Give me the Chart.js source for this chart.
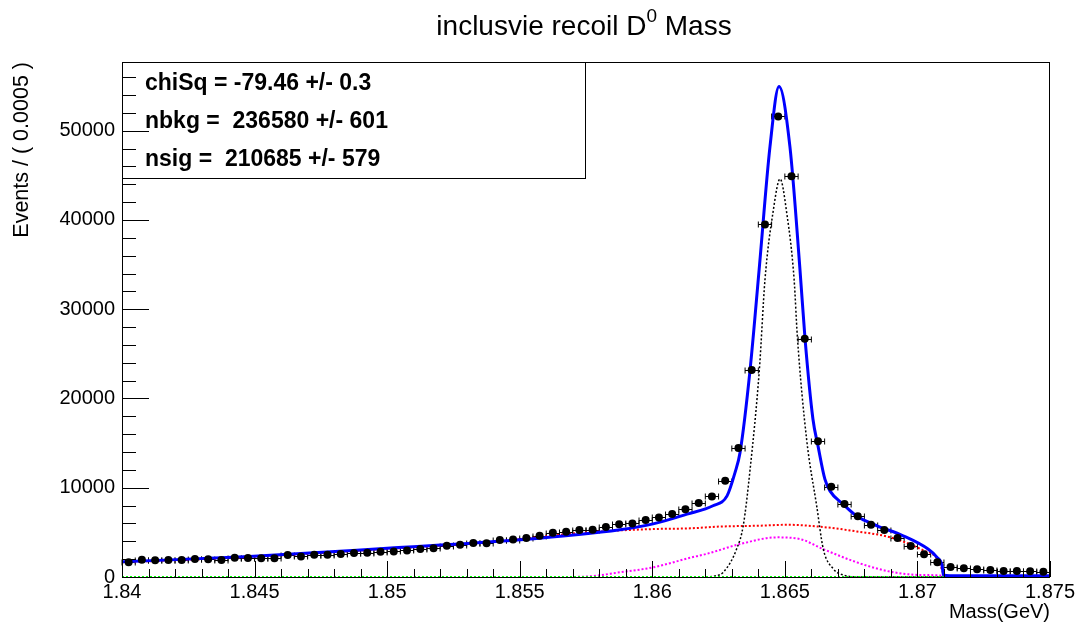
<!DOCTYPE html>
<html>
<head>
<meta charset="utf-8">
<title>inclusvie recoil D0 Mass</title>
<script src="https://cdn.jsdelivr.net/npm/chart.js@4.4.1/dist/chart.umd.min.js"></script>
<style>
  html, body { margin: 0; padding: 0; background: #ffffff; }
  #box { width: 1079px; height: 626px; }
</style>
</head>
<body>
<div id="box"><canvas id="massChart"></canvas></div>
<script>
/* histogram : 70 bins of 0.0005 GeV from 1.84 */
var binWidth = 0.0005;
var binCounts = [1640, 1940, 1870, 1900, 1900, 2010, 1980, 1900, 2160, 2120,
                 2090, 2090, 2460, 2310, 2500, 2500, 2570, 2680, 2720, 2830,
                 2870, 2980, 3130, 3210, 3500, 3600, 3800, 3770, 4140, 4200,
                 4360, 4620, 4960, 5070, 5260, 5300, 5600, 5900, 6000, 6380,
                 6680, 7050, 7600, 8300, 9030, 10770, 14450, 23200, 39500, 51600,
                 44900, 26700, 15200, 10100, 8170, 6820, 5850, 5260, 4360, 3470,
                 2540, 1640, 1120, 970, 860, 780, 670, 670, 640, 600];
var binCenters = binCounts.map(function (c, i) { return 1.84 + (i + 0.5) * binWidth; });

/* total fit (blue) */
var fitX = [1.8400, 1.8448, 1.8500, 1.8550, 1.85878, 1.86003, 1.86131, 1.86229, 1.86282, 1.86312,
            1.86331, 1.86369, 1.86403, 1.86444, 1.86478, 1.86519, 1.86557, 1.86576, 1.86606, 1.86625,
            1.86651, 1.86670, 1.86719, 1.86772, 1.86848, 1.86946, 1.87040, 1.87074, 1.87093, 1.87098,
            1.87123, 1.8750];
var fitY = [1700, 2300, 3220, 4170, 5300, 5950, 7050, 7980, 9090, 11700,
            13950, 23270, 34450, 48240, 54960, 48240, 34450, 26730, 17670, 14690,
            10960, 9650, 8170, 6800, 5740, 4620, 3130, 2200, 1260, 220,
            150, 150];

/* background (red dotted) */
var bkgX = [1.8400, 1.8448, 1.8500, 1.85377, 1.85754, 1.86003, 1.86142, 1.86255, 1.86406, 1.86508,
            1.86644, 1.86772, 1.86897, 1.87021, 1.87074, 1.87096, 1.87100, 1.8750];
var bkgY = [1650, 2250, 3150, 3880, 5000, 5370, 5450, 5650, 5750, 5850,
            5600, 5100, 4450, 3000, 2050, 500, 0, 0];

/* peaking component (magenta dotted) */
var bumpX = [1.8400, 1.85652, 1.85754, 1.85878, 1.86003, 1.86142, 1.86206, 1.86331, 1.86470, 1.86557,
             1.86644, 1.86772, 1.86897, 1.87021, 1.87096, 1.87100, 1.8750];
var bumpY = [0, 0, 50, 530, 1080, 2150, 2600, 3690, 4440, 4250,
             3130, 1640, 600, 220, 150, 0, 0];

/* signal (black dotted) */
var sigX = [1.8400, 1.86180, 1.86243, 1.86268, 1.86318, 1.86343, 1.86369, 1.86404, 1.86425, 1.86455,
            1.86482, 1.86507, 1.86535, 1.86547, 1.86582, 1.86620, 1.86645, 1.86683, 1.86721, 1.86783,
            1.8750];
var sigY = [0, 0, 150, 530, 3130, 5740, 12080, 23300, 33300, 40800,
            44600, 40800, 33300, 27000, 15440, 7980, 3130, 900, 220, 0,
            0];

/* flat component (green dotted) */
var flatX = [1.8400, 1.8750];
var flatY = [0, 0];

/* axes */
var massTicks = [1.84, 1.845, 1.85, 1.855, 1.86, 1.865, 1.87, 1.875];
var eventTicks = [0, 10000, 20000, 30000, 40000, 50000];
var fitLines = ["chiSq = -79.46 +/- 0.3", "nbkg =  236580 +/- 601", "nsig =  210685 +/- 579"];

var fontFamily = "'Liberation Sans', Arial, Helvetica, sans-serif";

function pairs(xs, ys) {
    return xs.map(function (x, i) { return { x: x, y: ys[i] }; });
}

function curve(label, xs, ys, color, width, dash) {
    return {
        label: label,
        data: pairs(xs, ys),
        showLine: true,
        borderColor: color,
        borderWidth: width,
        borderDash: dash,
        pointRadius: 0,
        cubicInterpolationMode: "monotone",
        fill: false
    };
}

/* error bars under the markers */
var errorBars = {
    id: "errorBars",
    beforeDatasetsDraw: function (chart) {
        var ctx = chart.ctx;
        var xs = chart.scales.x, ys = chart.scales.y;
        ctx.save();
        ctx.strokeStyle = "#000000";
        ctx.lineWidth = 1;
        binCounts.forEach(function (n, i) {
            var c = binCenters[i];
            var x1 = xs.getPixelForValue(c - binWidth / 2);
            var x2 = xs.getPixelForValue(c + binWidth / 2);
            var yc = Math.round(ys.getPixelForValue(n)) + 0.5;
            var e = Math.sqrt(n);
            ctx.beginPath();
            ctx.moveTo(x1, yc); ctx.lineTo(x2, yc);
            ctx.moveTo(x1, yc - 3); ctx.lineTo(x1, yc + 3);
            ctx.moveTo(x2, yc - 3); ctx.lineTo(x2, yc + 3);
            var xc = Math.round(xs.getPixelForValue(c)) + 0.5;
            ctx.moveTo(xc, ys.getPixelForValue(n + e));
            ctx.lineTo(xc, ys.getPixelForValue(n - e));
            ctx.stroke();
        });
        ctx.restore();
    }
};

/* frame, inside ticks, fit box and title */
var rootFrame = {
    id: "rootFrame",
    afterDraw: function (chart) {
        var ctx = chart.ctx;
        var a = chart.chartArea;
        var xs = chart.scales.x, ys = chart.scales.y;
        ctx.save();

        // fit result box
        ctx.fillStyle = "#ffffff";
        ctx.fillRect(a.left, a.top, 586 - a.left, 178 - a.top);
        ctx.strokeStyle = "#000000";
        ctx.lineWidth = 1;
        ctx.strokeRect(a.left + 0.5, a.top + 0.5, 586 - a.left - 1, 178 - a.top);
        ctx.fillStyle = "#000000";
        ctx.font = "bold 23px " + fontFamily;
        ctx.textAlign = "left";
        ctx.textBaseline = "alphabetic";
        fitLines.forEach(function (t, i) {
            ctx.fillText(t, 145, 90 + i * 38);
        });

        // frame
        ctx.strokeStyle = "#000000";
        ctx.lineWidth = 1;
        ctx.strokeRect(a.left + 0.5, a.top + 0.5, a.right - a.left - 1, a.bottom - a.top);

        // y ticks (inside, left)
        ctx.beginPath();
        for (var v = 0; v <= ys.max; v += 2000) {
            var py = Math.round(ys.getPixelForValue(v)) + 0.5;
            var len = (v % 10000 === 0) ? 27 : 14;
            ctx.moveTo(a.left, py);
            ctx.lineTo(a.left + len, py);
        }
        // x ticks (inside, bottom)
        for (var k = 0; k <= 35; k++) {
            var px = Math.round(xs.getPixelForValue(1.84 + k * 0.001)) + 0.5;
            var l2 = (k % 5 === 0) ? 16 : 8;
            ctx.moveTo(px, a.bottom);
            ctx.lineTo(px, a.bottom - l2);
        }
        ctx.stroke();

        // title with superscript
        var part1 = "inclusvie recoil D", sup = "0", part2 = " Mass";
        ctx.font = "28px " + fontFamily;
        var w1 = ctx.measureText(part1).width;
        var w3 = ctx.measureText(part2).width;
        ctx.font = "19px " + fontFamily;
        var w2 = ctx.measureText(sup).width;
        var x0 = 584 - (w1 + w2 + w3) / 2;
        ctx.font = "28px " + fontFamily;
        ctx.fillText(part1, x0, 35);
        ctx.fillText(part2, x0 + w1 + w2, 35);
        ctx.font = "19px " + fontFamily;
        ctx.fillText(sup, x0 + w1, 22);

        ctx.restore();
    }
};

var canvasElement = document.getElementById("massChart");

var config =
{
    type : "scatter",
    data :
    {
        datasets: [
            {
                label : "data",
                data : pairs(binCenters, binCounts),
                pointRadius : 4,
                pointBackgroundColor : "#000000",
                pointBorderColor : "#000000",
                pointBorderWidth : 0,
                showLine : false
            },
            curve("total", fitX, fitY, "#0000ff", 3, []),
            curve("flat", flatX, flatY, "#00ff00", 2, [2, 2]),
            curve("sig", sigX, sigY, "#000000", 1.5, [2, 2]),
            curve("peaking", bumpX, bumpY, "#ff00ff", 2, [2, 2]),
            curve("bkg", bkgX, bkgY, "#ff0000", 2, [2, 2])
        ],
    },
    options :
    {
        responsive : true,
        maintainAspectRatio : false,
        animation : false,
        events : [],
        layout : { padding : { left : 0, top : 62, right : 29, bottom : 0 } },
        plugins : {
            legend : { display : false },
            tooltip : { enabled : false },
            title : { display : false }
        },
        scales : {
            x : {
                type : "linear",
                min : 1.84,
                max : 1.875,
                grid : { display : false, drawTicks : false },
                border : { display : false },
                afterBuildTicks : function (s) { s.ticks = massTicks.map(function (v) { return { value : v }; }); },
                afterFit : function (s) { s.height = 49; },
                ticks : {
                    color : "#000000",
                    padding : 3,
                    maxRotation : 0,
                    autoSkip : false,
                    font : { family : fontFamily, size : 20 },
                    callback : function (v) { return String(+Number(v).toFixed(3)); }
                },
                title : {
                    display : true,
                    text : "Mass(GeV)",
                    align : "end",
                    color : "#000000",
                    font : { family : fontFamily, size : 20 },
                    padding : { top : 0, bottom : 2 }
                }
            },
            y : {
                type : "linear",
                min : 0,
                max : 57700,
                grid : { display : false, drawTicks : false },
                border : { display : false },
                afterBuildTicks : function (s) { s.ticks = eventTicks.map(function (v) { return { value : v }; }); },
                afterFit : function (s) { s.width = 122; },
                ticks : {
                    color : "#000000",
                    padding : 7,
                    font : { family : fontFamily, size : 20 },
                    callback : function (v) { return String(v); }
                },
                title : {
                    display : true,
                    text : "Events / ( 0.0005 )",
                    align : "end",
                    color : "#000000",
                    font : { family : fontFamily, size : 21.5 },
                    padding : { top : 9, bottom : 0 }
                }
            }
        }
    },
    plugins : [errorBars, rootFrame]
};

var chart = new Chart(canvasElement, config);
</script>
</body>
</html>
